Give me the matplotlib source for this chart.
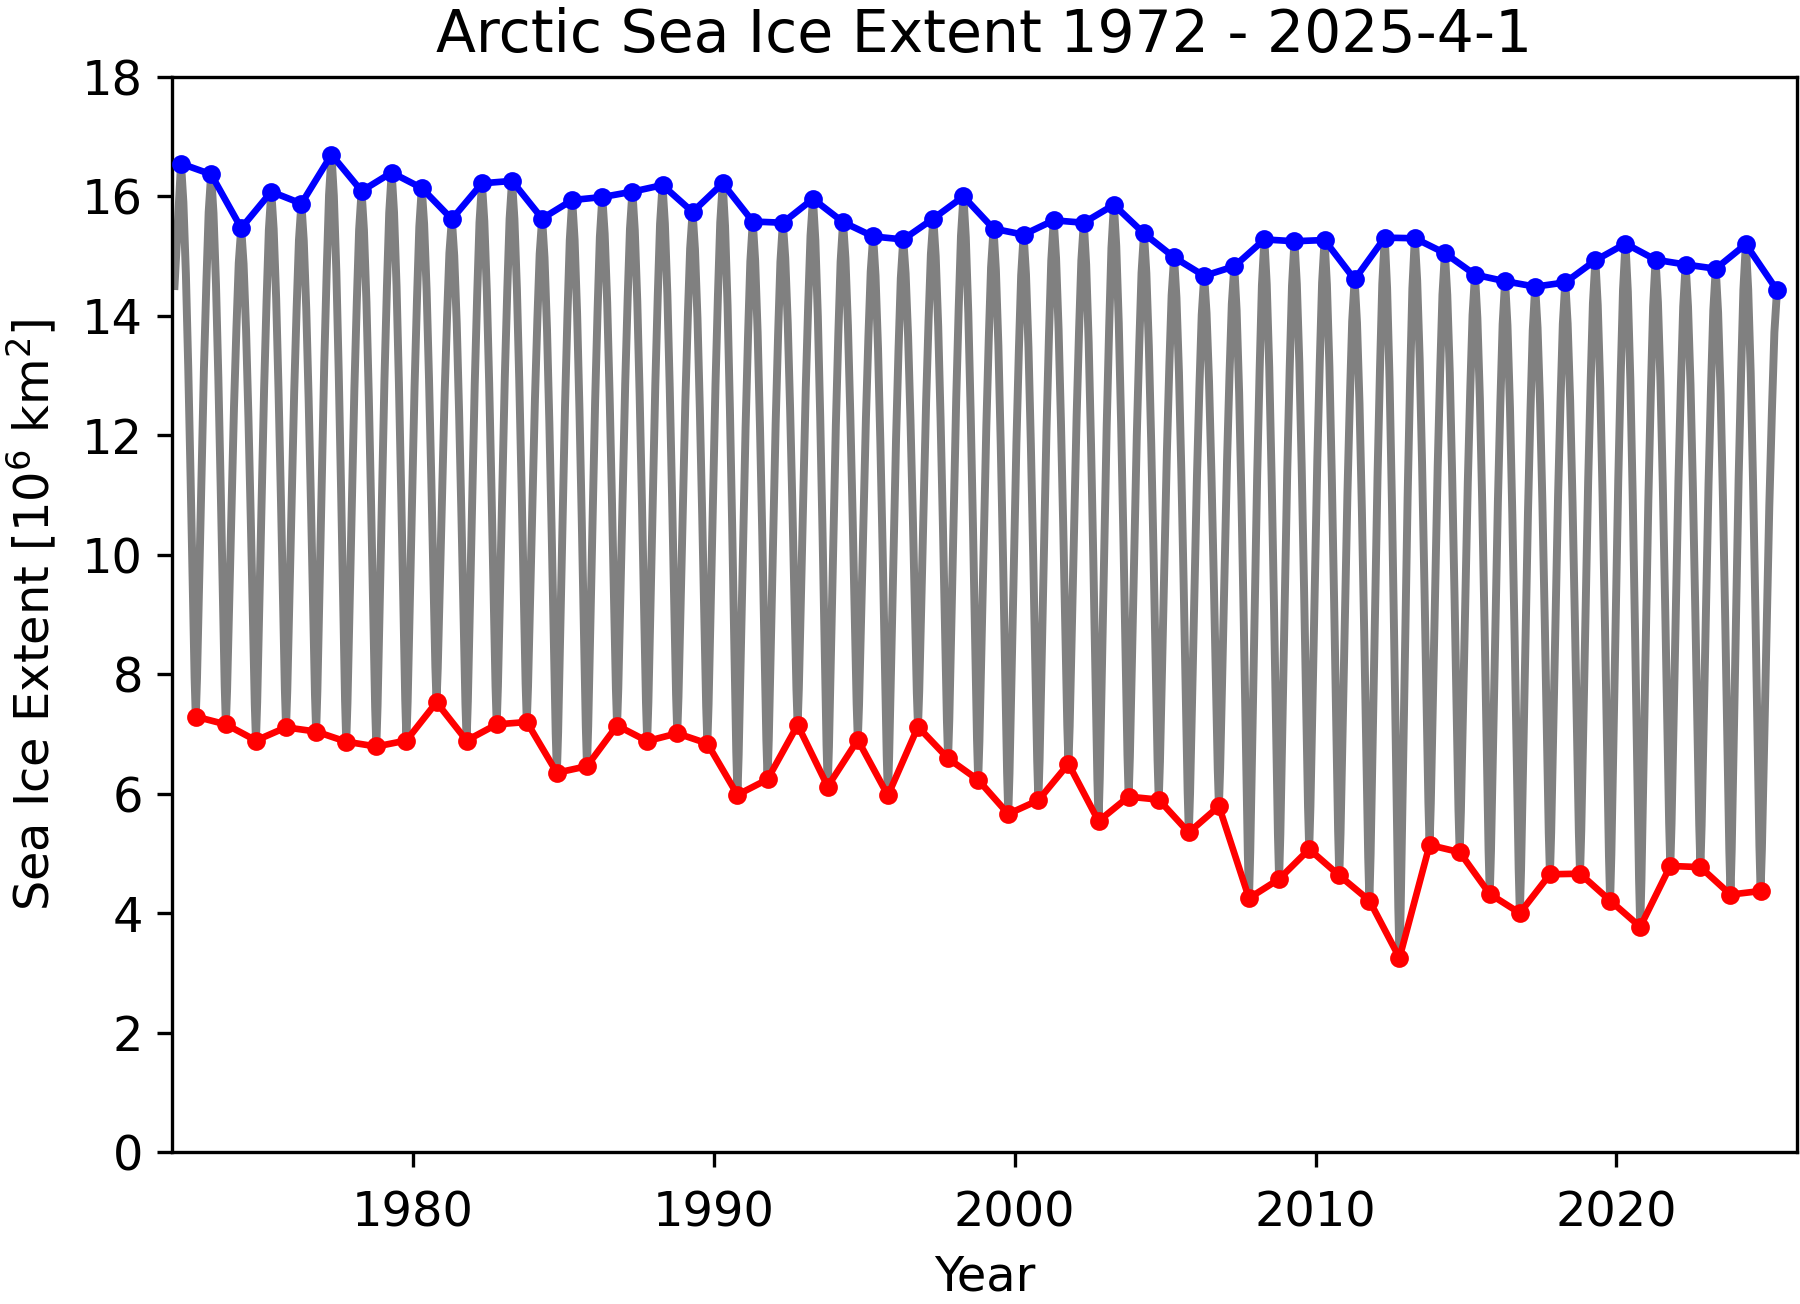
import numpy as np
import matplotlib
matplotlib.use("Agg")
import matplotlib.pyplot as plt

# ---- data ----
years_max = list(range(1972, 2026))
max_extent = [16.55, 16.37, 15.47, 16.08, 15.88, 16.70, 16.09, 16.40, 16.14, 15.62,
              16.22, 16.26, 15.63, 15.94, 15.99, 16.08, 16.19, 15.74, 16.22, 15.58,
              15.56, 15.96, 15.57, 15.33, 15.28, 15.63, 16.00, 15.46, 15.36, 15.60,
              15.56, 15.86, 15.38, 14.98, 14.67, 14.83, 15.28, 15.25, 15.27, 14.61,
              15.31, 15.30, 15.05, 14.69, 14.58, 14.49, 14.56, 14.93, 15.21, 14.94,
              14.86, 14.79, 15.20, 14.43]

years_min = list(range(1972, 2025))
min_extent = [7.29, 7.16, 6.89, 7.11, 7.04, 6.87, 6.79, 6.89, 7.53, 6.89,
              7.16, 7.20, 6.35, 6.46, 7.14, 6.88, 7.01, 6.84, 5.98, 6.24,
              7.15, 6.12, 6.90, 5.97, 7.12, 6.59, 6.23, 5.66, 5.89, 6.50,
              5.54, 5.95, 5.90, 5.35, 5.79, 4.25, 4.57, 5.07, 4.63, 4.21,
              3.25, 5.14, 5.02, 4.32, 4.00, 4.65, 4.66, 4.21, 3.77, 4.79,
              4.77, 4.31, 4.37]

# time of year (fraction of year on the plot's time axis) of the max / min
max_time = 0.30
min_time = 0.79
last_time = 2025 + (4 + 1 / 30) / 12   # data end: 2025-4-1

# first value of the record (January 1972)
start_time = 1972 + 1 / 12
start_value = 14.5

# normalised seasonal shape (0 = annual min, 1 = annual max)
fall_pos = [0.00, 0.16, 0.33, 0.49, 0.65, 0.82, 0.92, 1.00]
fall_frac = [1.00, 0.93, 0.80, 0.63, 0.43, 0.20, 0.07, 0.00]
rise_pos = [0.00, 0.08, 0.22, 0.37, 0.53, 0.69, 0.84, 1.00]
rise_frac = [0.00, 0.07, 0.25, 0.45, 0.64, 0.80, 0.93, 1.00]

title = "Arctic Sea Ice Extent 1972 - 2025-4-1"
xlabel = "Year"
ylabel = r"Sea Ice Extent [$10^6$ km$^2$]"

# ---- build series ----
tmax = [y + max_time for y in years_max]
tmax[-1] = last_time
tmin = [y + min_time for y in years_min]

gt = [start_time]
gv = [start_value]
for i, y in enumerate(years_min):
    a_t, a_v = tmax[i], max_extent[i]
    b_t, b_v = tmin[i], min_extent[i]
    for p, f in zip(fall_pos, fall_frac):
        gt.append(a_t + p * (b_t - a_t))
        gv.append(b_v + f * (a_v - b_v))
    c_t, c_v = tmax[i + 1], max_extent[i + 1]
    for p, f in zip(rise_pos[1:], rise_frac[1:]):
        gt.append(b_t + p * (c_t - b_t))
        gv.append(b_v + f * (c_v - b_v))

# ---- plot ----
fig = plt.figure(figsize=(6, 1304 / 300), dpi=300)
ax = fig.add_axes([172 / 1800, 1 - 1152 / 1304, (1797 - 172) / 1800, (1152 - 77) / 1304])

ax.plot(gt, gv, color="gray", lw=1.9, zorder=1)
ax.plot(tmax, max_extent, color="blue", lw=1.6, marker="o", ms=3.5, zorder=3)
ax.plot(tmin, min_extent, color="red", lw=1.6, marker="o", ms=3.5, zorder=3)

ax.set_xlim(1972, 2026)
ax.set_ylim(0, 18)
ax.set_xticks([1980, 1990, 2000, 2010, 2020])
ax.set_yticks(range(0, 19, 2))
ax.tick_params(labelsize=11.5)
ax.tick_params(axis="x", pad=5.5)
ax.set_title(title, fontsize=14)
ax.set_xlabel(xlabel, fontsize=11.5)
ax.set_ylabel(ylabel, fontsize=11.5, labelpad=5.5)

fig.savefig("out.png", dpi=300)
